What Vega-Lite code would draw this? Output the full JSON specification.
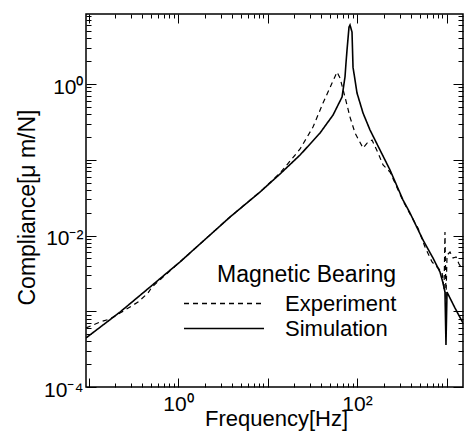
{
  "$schema": "https://vega.github.io/schema/vega-lite/v6.json",
  "width": 377,
  "height": 373,
  "autosize": {"type": "none"},
  "padding": {"left": 86, "top": 14, "right": 2, "bottom": 49},
  "background": "white",
  "config": {
    "font": "Liberation Sans",
    "view": {"stroke": "black", "strokeWidth": 1.5},
    "axis": {"grid": false, "domain": false, "ticks": true, "tickColor": "black", "labelColor": "black", "titleColor": "black", "tickWidth": 1, "labelOverlap": false, "labelFlush": false, "titleFontWeight": "normal"}
  },
  "datasets": {
    "curves": [
      {"series": "Simulation", "f": 0.0937, "c": 0.000444},
      {"series": "Simulation", "f": 0.225, "c": 0.000977},
      {"series": "Simulation", "f": 0.487, "c": 0.00209},
      {"series": "Simulation", "f": 1.05, "c": 0.00447},
      {"series": "Simulation", "f": 3.81, "c": 0.01754},
      {"series": "Simulation", "f": 8.24, "c": 0.0375},
      {"series": "Simulation", "f": 13.8, "c": 0.0649},
      {"series": "Simulation", "f": 23.1, "c": 0.1156},
      {"series": "Simulation", "f": 38.6, "c": 0.2254},
      {"series": "Simulation", "f": 54.0, "c": 0.39},
      {"series": "Simulation", "f": 68.0, "c": 0.673},
      {"series": "Simulation", "f": 73.4, "c": 1.24},
      {"series": "Simulation", "f": 75.3, "c": 1.89},
      {"series": "Simulation", "f": 77.3, "c": 2.81},
      {"series": "Simulation", "f": 81.4, "c": 5.66},
      {"series": "Simulation", "f": 83.5, "c": 6.01},
      {"series": "Simulation", "f": 87.9, "c": 4.86},
      {"series": "Simulation", "f": 90.2, "c": 1.67},
      {"series": "Simulation", "f": 100, "c": 0.76},
      {"series": "Simulation", "f": 116.7, "c": 0.414},
      {"series": "Simulation", "f": 139.7, "c": 0.247},
      {"series": "Simulation", "f": 180.6, "c": 0.1346},
      {"series": "Simulation", "f": 233.7, "c": 0.0733},
      {"series": "Simulation", "f": 326.6, "c": 0.0294},
      {"series": "Simulation", "f": 391, "c": 0.0198},
      {"series": "Simulation", "f": 546, "c": 0.00873},
      {"series": "Simulation", "f": 706, "c": 0.00505},
      {"series": "Simulation", "f": 845, "c": 0.0033},
      {"series": "Simulation", "f": 914, "c": 0.00236},
      {"series": "Simulation", "f": 961, "c": 0.00179},
      {"series": "Simulation", "f": 986, "c": 0.000358},
      {"series": "Simulation", "f": 1013, "c": 0.00179},
      {"series": "Simulation", "f": 1245, "c": 0.0011},
      {"series": "Simulation", "f": 1528, "c": 0.0007},
      {"series": "Experiment", "f": 0.0937, "c": 0.000601},
      {"series": "Experiment", "f": 0.134, "c": 0.000721},
      {"series": "Experiment", "f": 0.174, "c": 0.000791},
      {"series": "Experiment", "f": 0.225, "c": 0.000948},
      {"series": "Experiment", "f": 0.291, "c": 0.00114},
      {"series": "Experiment", "f": 0.357, "c": 0.00132},
      {"series": "Experiment", "f": 0.462, "c": 0.00174},
      {"series": "Experiment", "f": 0.512, "c": 0.00209},
      {"series": "Experiment", "f": 1.05, "c": 0.00447},
      {"series": "Experiment", "f": 3.81, "c": 0.01754},
      {"series": "Experiment", "f": 8.24, "c": 0.0375},
      {"series": "Experiment", "f": 13.8, "c": 0.0668},
      {"series": "Experiment", "f": 23.1, "c": 0.1387},
      {"series": "Experiment", "f": 32.2, "c": 0.27},
      {"series": "Experiment", "f": 41.7, "c": 0.561},
      {"series": "Experiment", "f": 52.6, "c": 1.03},
      {"series": "Experiment", "f": 59.8, "c": 1.44},
      {"series": "Experiment", "f": 64.6, "c": 1.2},
      {"series": "Experiment", "f": 73.4, "c": 0.673},
      {"series": "Experiment", "f": 83.5, "c": 0.366},
      {"series": "Experiment", "f": 95.0, "c": 0.2254},
      {"series": "Experiment", "f": 116.7, "c": 0.143},
      {"series": "Experiment", "f": 129.4, "c": 0.166},
      {"series": "Experiment", "f": 147.2, "c": 0.182},
      {"series": "Experiment", "f": 171.8, "c": 0.1227},
      {"series": "Experiment", "f": 195.4, "c": 0.0853},
      {"series": "Experiment", "f": 233.7, "c": 0.0689},
      {"series": "Experiment", "f": 326.6, "c": 0.0286},
      {"series": "Experiment", "f": 391, "c": 0.0192},
      {"series": "Experiment", "f": 481, "c": 0.0125},
      {"series": "Experiment", "f": 575, "c": 0.00705},
      {"series": "Experiment", "f": 689, "c": 0.00447},
      {"series": "Experiment", "f": 804, "c": 0.00372},
      {"series": "Experiment", "f": 891, "c": 0.0033},
      {"series": "Experiment", "f": 938, "c": 0.00191},
      {"series": "Experiment", "f": 961, "c": 0.0111},
      {"series": "Experiment", "f": 986, "c": 0.00141},
      {"series": "Experiment", "f": 1013, "c": 0.00553},
      {"series": "Experiment", "f": 1094, "c": 0.00605},
      {"series": "Experiment", "f": 1183, "c": 0.00505},
      {"series": "Experiment", "f": 1277, "c": 0.0052},
      {"series": "Experiment", "f": 1380, "c": 0.00421},
      {"series": "Experiment", "f": 1528, "c": 0.00351}
    ]
  },
  "data": {"name": "curves"},
  "layer": [
    {
      "transform": [{"filter": "datum.series === 'Simulation'"}],
      "mark": {"type": "line", "color": "black", "strokeWidth": 1.6, "clip": true},
      "encoding": {
        "x": {
          "field": "f", "type": "quantitative",
          "scale": {"type": "log", "domain": [0.0937, 1528], "nice": false},
          "axis": {
            "orient": "bottom",
            "values": [0.1, 1, 10, 100, 1000],
            "labelExpr": "datum.value == 1 ? '10⁰' : datum.value == 100 ? '10²' : ''",
            "labelFontSize": 21,
            "labelPadding": 6,
            "offset": -9,
            "tickSize": 9,
            "title": "Frequency[Hz]",
            "titleFontSize": 22,
            "titleX": 190,
            "titleY": 47,
            "titleBaseline": "alphabetic",
            "titleAlign": "center"
          }
        },
        "y": {
          "field": "c", "type": "quantitative",
          "scale": {"type": "log", "domain": [0.0001, 8.4], "nice": false},
          "axis": {
            "orient": "left",
            "values": [0.0001, 0.001, 0.01, 0.1, 1],
            "labelExpr": "datum.value == 1 ? '10⁰' : datum.value == 0.01 ? '10⁻²' : datum.value == 0.0001 ? '10⁻⁴' : ''",
            "labelFontSize": 21,
            "labelPadding": 3,
            "labelOffset": 3,
            "offset": -10,
            "tickSize": 10,
            "title": "Compliance[μ m/N]",
            "titleFontSize": 23,
            "titleAngle": 270,
            "titleX": -62,
            "titleY": 193,
            "titleBaseline": "alphabetic",
            "titleAlign": "center"
          }
        },
        "strokeDash": {
          "field": "series", "type": "nominal",
          "scale": {"domain": ["Experiment", "Simulation"], "range": [[5, 4], [1, 0]]},
          "legend": {
            "title": "Magnetic Bearing",
            "orient": "none",
            "legendX": 97,
            "legendY": 250,
            "padding": 0,
            "titleFontSize": 23,
            "titleFontWeight": "normal",
            "titleColor": "black",
            "titleAnchor": "end",
            "titlePadding": 4,
            "titleLimit": 400,
            "labelFontSize": 22,
            "labelColor": "black",
            "labelLimit": 300,
            "labelOffset": 20,
            "symbolType": "stroke",
            "symbolSize": 6400,
            "symbolStrokeWidth": 1.5,
            "symbolStrokeColor": "black",
            "clipHeight": 25,
            "rowPadding": 0
          }
        }
      }
    },
    {
      "transform": [{"filter": "datum.series === 'Experiment'"}],
      "mark": {"type": "line", "color": "black", "strokeWidth": 1.2, "clip": true},
      "encoding": {
        "x": {
          "field": "f", "type": "quantitative",
          "scale": {"type": "log", "domain": [0.0937, 1528], "nice": false},
          "axis": {"orient": "top", "values": [0.1, 1, 10, 100, 1000], "labels": false, "title": null, "offset": -9, "tickSize": 9}
        },
        "y": {
          "field": "c", "type": "quantitative",
          "scale": {"type": "log", "domain": [0.0001, 8.4], "nice": false},
          "axis": {"orient": "right", "values": [0.0001, 0.001, 0.01, 0.1, 1], "labels": false, "title": null, "offset": -10, "tickSize": 10}
        },
        "strokeDash": {"field": "series", "type": "nominal"}
      }
    },
    {
      "transform": [{"filter": "datum.series === 'Simulation'"}],
      "mark": {"type": "line", "opacity": 0, "clip": true},
      "encoding": {
        "x": {
          "field": "f", "type": "quantitative",
          "scale": {"type": "log", "domain": [0.0937, 1528], "nice": false},
          "axis": {"orient": "bottom", "values": [0.2,0.3,0.4,0.5,0.6,0.7,0.8,0.9,2,3,4,5,6,7,8,9,20,30,40,50,60,70,80,90,200,300,400,500,600,700,800,900], "labels": false, "title": null, "offset": -4, "tickSize": 4}
        },
        "y": {
          "field": "c", "type": "quantitative",
          "scale": {"type": "log", "domain": [0.0001, 8.4], "nice": false},
          "axis": {"orient": "left", "values": [0.0002,0.0003,0.0004,0.0005,0.0006,0.0007,0.0008,0.0009,0.002,0.003,0.004,0.005,0.006,0.007,0.008,0.009,0.02,0.03,0.04,0.05,0.06,0.07,0.08,0.09,0.2,0.3,0.4,0.5,0.6,0.7,0.8,0.9,2,3,4,5,6,7,8], "labels": false, "title": null, "offset": -5, "tickSize": 5}
        }
      }
    },
    {
      "transform": [{"filter": "datum.series === 'Simulation'"}],
      "mark": {"type": "line", "opacity": 0, "clip": true},
      "encoding": {
        "x": {
          "field": "f", "type": "quantitative",
          "scale": {"type": "log", "domain": [0.0937, 1528], "nice": false},
          "axis": {"orient": "top", "values": [0.2,0.3,0.4,0.5,0.6,0.7,0.8,0.9,2,3,4,5,6,7,8,9,20,30,40,50,60,70,80,90,200,300,400,500,600,700,800,900], "labels": false, "title": null, "offset": -4, "tickSize": 4}
        },
        "y": {
          "field": "c", "type": "quantitative",
          "scale": {"type": "log", "domain": [0.0001, 8.4], "nice": false},
          "axis": {"orient": "right", "values": [0.0002,0.0003,0.0004,0.0005,0.0006,0.0007,0.0008,0.0009,0.002,0.003,0.004,0.005,0.006,0.007,0.008,0.009,0.02,0.03,0.04,0.05,0.06,0.07,0.08,0.09,0.2,0.3,0.4,0.5,0.6,0.7,0.8,0.9,2,3,4,5,6,7,8], "labels": false, "title": null, "offset": -5, "tickSize": 5}
        }
      }
    }
  ],
  "resolve": {"axis": {"x": "independent", "y": "independent"}}
}
